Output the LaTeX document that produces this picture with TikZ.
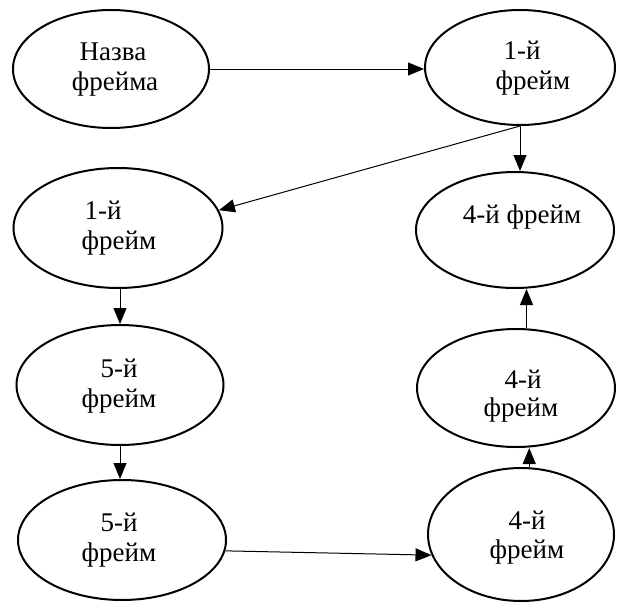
\documentclass[tikz,border=0pt]{standalone}
\usepackage{fontspec}
\setmainfont{Liberation Serif}
\usetikzlibrary{shapes.geometric,arrows.meta}
\tikzset{
  frame/.style={draw, ellipse, line width=2pt, inner sep=0pt},
  lbl/.style={anchor=base, inner sep=0pt, font=\fontsize{27}{32}\selectfont},
  link/.style={line width=1pt, -{Triangle[length=16pt,width=13pt]}}
}
\begin{document}
\begin{tikzpicture}[x=1pt,y=-1pt]
\useasboundingbox (0,0) rectangle (621,613);
% frame ellipses
\node[frame, minimum width=196pt, minimum height=118pt] (e1) at (111,69) {};
\node[frame, minimum width=190pt, minimum height=115pt] (e2) at (520,67.5) {};
\node[frame, minimum width=209pt, minimum height=120pt] (e3) at (118,228) {};
\node[frame, minimum width=198pt, minimum height=116pt] (e4) at (515,230) {};
\node[frame, minimum width=207pt, minimum height=120pt] (e5) at (120,385) {};
\node[frame, minimum width=198pt, minimum height=118pt] (e6) at (516,388) {};
\node[frame, minimum width=208pt, minimum height=120pt] (e7) at (122,540) {};
\node[frame, minimum width=186pt, minimum height=133pt] (e8) at (521,534.5) {};
% frame names
\node[lbl] (t1a) at (113,60) {Назва};
\node[lbl] (t1b) at (115,90) {фрейма};
\node[lbl] (t2a) at (522,59) {1-й};
\node[lbl] (t2b) at (533,89) {фрейм};
\node[lbl] (t3a) at (103,219) {1-й};
\node[lbl] (t3b) at (119,249) {фрейм};
\node[lbl] (t4) at (522,223) {4-й фрейм};
\node[lbl] (t5a) at (119,377) {5-й};
\node[lbl] (t5b) at (119,407) {фрейм};
\node[lbl] (t6a) at (523,388) {4-й};
\node[lbl] (t6b) at (521,416) {фрейм};
\node[lbl] (t7a) at (119,531) {5-й};
\node[lbl] (t7b) at (119,561) {фрейм};
\node[lbl] (t8a) at (527,529) {4-й};
\node[lbl] (t8b) at (527,558) {фрейм};
% connectors
\draw[link] (e1.east) -- (e1.east -| e2.west);
\draw[link] (e2.south) -- (e2.south |- e4.north);
\draw[link] (e2.south) -- (e3.10);
\draw[link] (e5.north |- e3.south) -- (e5.north);
\draw[link] (e5.south) -- (e5.south |- e7.north);
\draw[link] (e7.-6) -- (e8.193);
\draw[link] (e8.83) -- (e8.83 |- e6.south);
\draw[link] (e6.80) -- (e6.80 |- e4.south);
\end{tikzpicture}
\end{document}
